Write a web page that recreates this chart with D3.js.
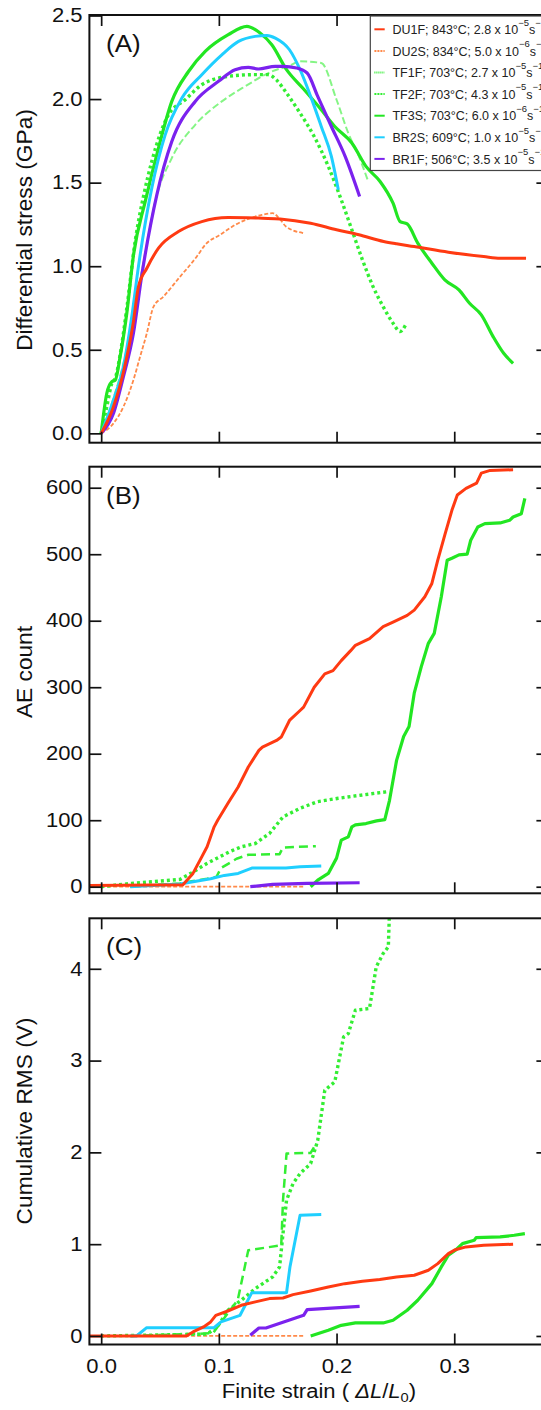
<!DOCTYPE html>
<html>
<head>
<meta charset="utf-8">
<script src="https://cdn.jsdelivr.net/npm/d3@7"></script>
<style>
  body { margin: 0; background: #fff; overflow: hidden; }
  svg { display: block; font-family: "Liberation Sans", Arial, sans-serif; }
</style>
</head>
<body>
<div id="chart"></div>
<script>
////////// Data //////////

var strainTicks = [0, 0.1, 0.2, 0.3];
var stressTicks = [0, 0.5, 1, 1.5, 2, 2.5];
var aeTicks = [0, 100, 200, 300, 400, 500, 600];
var rmsTicks = [0, 1, 2, 3, 4];

var seriesKeys = ["DU1F", "DU2S", "TF1F", "TF2F", "TF3S", "BR2S", "BR1F"];
var seriesTemps = [843, 834, 703, 703, 703, 609, 506];
var rateMantissa = ["2.8", "5.0", "2.7", "4.3", "6.0", "1.0", "3.5"];
var rateExponent = ["\u22125", "\u22126", "\u22125", "\u22125", "\u22126", "\u22125", "\u22125"];

// (A) differential stress, GPa
var stressDU1F = [[0,0],[0.01,0.15],[0.02,0.4],[0.027,0.65],[0.0317,0.878],[0.0388,0.988],[0.0487,1.108],[0.0657,1.207],[0.0855,1.267],[0.108,1.291],[0.124,1.29],[0.137,1.287],[0.152,1.283],[0.178,1.257],[0.2,1.218],[0.219,1.188],[0.24,1.148],[0.251,1.134],[0.266,1.118],[0.295,1.084],[0.325,1.058],[0.339,1.048],[0.361,1.048]];
var stressDU2S = [[0,0],[0.0105,0.06],[0.0189,0.159],[0.0274,0.319],[0.0331,0.459],[0.0388,0.599],[0.0445,0.758],[0.0529,0.818],[0.0671,0.938],[0.0813,1.058],[0.0884,1.128],[0.101,1.188],[0.1138,1.247],[0.1365,1.307],[0.1457,1.317],[0.152,1.28],[0.157,1.238],[0.172,1.198]];
var stressTF1F = [[0,0],[0.0048,0.16],[0.0091,0.3],[0.012,0.33],[0.0161,0.47],[0.0218,0.75],[0.0289,1.15],[0.036,1.42],[0.043,1.627],[0.0572,1.906],[0.0714,1.996],[0.0855,2.086],[0.108,2.136],[0.1308,2.146],[0.142,2.146],[0.1487,2.116],[0.1575,2.036],[0.169,1.916],[0.181,1.776],[0.193,1.597],[0.204,1.397],[0.213,1.218],[0.222,1.038],[0.231,0.878],[0.2396,0.758],[0.248,0.659],[0.254,0.609],[0.2587,0.649]];
var stressTF2F = [[0,0],[0.01,0.2],[0.02,0.45],[0.03,0.8],[0.038,1.1],[0.0459,1.387],[0.06,1.647],[0.0799,1.846],[0.1025,1.986],[0.1223,2.076],[0.145,2.165],[0.16,2.2],[0.169,2.226],[0.187,2.216],[0.2,1.996],[0.21,1.796],[0.219,1.657],[0.2264,1.517]];
var stressTF3S = [[0,0],[0.0048,0.24],[0.0091,0.309],[0.012,0.319],[0.0161,0.459],[0.0218,0.72],[0.0275,1.068],[0.0374,1.387],[0.0487,1.707],[0.06,1.986],[0.0742,2.165],[0.0884,2.285],[0.108,2.385],[0.1238,2.435],[0.135,2.395],[0.145,2.325],[0.1575,2.176],[0.172,2.06],[0.187,1.936],[0.1985,1.836],[0.213,1.737],[0.225,1.597],[0.237,1.507],[0.248,1.377],[0.254,1.267],[0.26,1.253],[0.269,1.138],[0.281,1.018],[0.292,0.918],[0.304,0.858],[0.313,0.778],[0.323,0.709],[0.333,0.579],[0.342,0.479],[0.35,0.419]];
var stressBR2S = [[0,0],[0.0105,0.2],[0.0189,0.399],[0.026,0.699],[0.0317,1.0],[0.043,1.467],[0.0544,1.786],[0.0686,2.006],[0.0855,2.146],[0.1025,2.265],[0.1167,2.345],[0.1308,2.375],[0.141,2.381],[0.148,2.365],[0.16,2.295],[0.169,2.176],[0.178,2.016],[0.187,1.836],[0.1956,1.657],[0.2015,1.457]];
var stressBR1F = [[0,0],[0.0105,0.12],[0.0189,0.339],[0.0274,0.599],[0.0346,0.95],[0.0473,1.427],[0.06,1.746],[0.0799,1.986],[0.0997,2.106],[0.1138,2.176],[0.125,2.19],[0.1336,2.18],[0.148,2.196],[0.1545,2.196],[0.166,2.186],[0.175,2.156],[0.184,2.016],[0.1956,1.836],[0.2073,1.657],[0.2196,1.417]];

// (B) AE count
var aeDU1F = [[-0.01,2],[0.0695,3],[0.078,20],[0.084,40],[0.09,60],[0.096,90],[0.099,100],[0.1076,125],[0.1164,150],[0.125,180],[0.134,205],[0.137,210],[0.149,220],[0.153,225],[0.16,250],[0.169,265],[0.172,270],[0.181,300],[0.19,320],[0.197,325],[0.204,340],[0.212,355],[0.216,363],[0.228,373],[0.2396,391],[0.248,398],[0.26,408],[0.266,416],[0.275,436],[0.281,456],[0.286,491],[0.292,529],[0.298,566],[0.3026,589],[0.31,599],[0.319,607],[0.323,622],[0.3305,626],[0.35,627]];
var aeDU2S = [[0,0],[0.172,0]];
var aeTF1F = [[0,0],[0.0255,5],[0.067,11],[0.078,22],[0.0898,35],[0.1096,53],[0.119,60],[0.131,65],[0.143,80],[0.1545,105],[0.169,118],[0.184,128],[0.2015,133],[0.222,138],[0.244,143]];
var aeTF2F = [[0.0247,0],[0.067,5],[0.09,12],[0.098,15],[0.1018,28],[0.115,42],[0.125,48],[0.1516,49],[0.1545,59],[0.166,60],[0.1824,61]];
var aeTF3S = [[0.178,0],[0.184,10],[0.193,20],[0.2,43],[0.204,70],[0.21,75],[0.213,90],[0.216,93],[0.225,95],[0.234,99],[0.241,101],[0.245,130],[0.251,190],[0.257,226],[0.2616,241],[0.266,291],[0.272,331],[0.278,366],[0.283,381],[0.289,436],[0.294,491],[0.298,494],[0.304,499],[0.311,500],[0.314,521],[0.32,541],[0.326,546],[0.339,547],[0.347,551],[0.35,556],[0.357,561],[0.36,584]];
var aeBR2S = [[0.0247,0],[0.067,4],[0.093,12],[0.1047,17],[0.1164,20],[0.128,28],[0.157,28],[0.169,30],[0.187,31]];
var aeBR1F = [[0.1267,0],[0.1457,3.5],[0.175,5],[0.2196,6]];

// (C) cumulative RMS, V
var rmsDU1F = [[-0.01,0],[0.0724,0],[0.078,0.044],[0.087,0.098],[0.093,0.153],[0.0974,0.225],[0.1076,0.272],[0.119,0.334],[0.131,0.371],[0.143,0.407],[0.1545,0.414],[0.163,0.45],[0.178,0.49],[0.193,0.534],[0.207,0.57],[0.222,0.596],[0.2367,0.614],[0.251,0.643],[0.266,0.661],[0.278,0.716],[0.286,0.788],[0.295,0.897],[0.301,0.94],[0.31,0.97],[0.325,0.988],[0.35,0.999]];
var rmsDU2S = [[0,0],[0.172,0]];
var rmsTF1F = [[0,0],[0.09,0.02],[0.0988,0.098],[0.1076,0.28],[0.119,0.389],[0.131,0.516],[0.1457,0.643],[0.1516,0.752],[0.1545,1.115],[0.1575,1.478],[0.163,1.66],[0.169,1.77],[0.178,1.878],[0.184,2.13],[0.19,2.677],[0.1985,2.768],[0.206,3.258],[0.21,3.294],[0.216,3.549],[0.228,3.567],[0.2337,4.021],[0.2396,4.166],[0.244,4.239],[0.2449,4.6]];
var rmsTF2F = [[0.0247,0],[0.095,0.03],[0.0988,0.098],[0.116,0.389],[0.125,0.934],[0.153,0.988],[0.1545,1.478],[0.1575,1.987],[0.178,1.994],[0.181,2.06]];
var rmsTF3S = [[0.178,0],[0.193,0.062],[0.204,0.116],[0.216,0.142],[0.2396,0.142],[0.248,0.171],[0.26,0.28],[0.269,0.389],[0.281,0.57],[0.289,0.752],[0.295,0.879],[0.301,0.934],[0.307,1.006],[0.317,1.043],[0.3186,1.071],[0.339,1.079],[0.351,1.097],[0.36,1.115]];
var rmsBR2S = [[0.0247,0],[0.03,0],[0.0387,0.09],[0.0959,0.09],[0.1018,0.153],[0.118,0.225],[0.128,0.472],[0.1575,0.472],[0.1604,0.752],[0.169,1.315],[0.187,1.322]];
var rmsBR1F = [[0.1267,0.007],[0.134,0.087],[0.14,0.087],[0.172,0.225],[0.175,0.287],[0.2196,0.323]];

////////// Styles //////////

var styleOf = {
  DU1F: { color: "#ff3a12", width: 3,   dash: null },
  DU2S: { color: "#ff8a4a", width: 1.8, dash: "4,2" },
  TF1F: { color: "#33ee33", width: 3.4, dash: "3,3" },
  TF2F: { color: "#33ee33", width: 2.5, dash: "9,5" },
  TF3S: { color: "#22e622", width: 3.2, dash: null },
  BR2S: { color: "#1fcfff", width: 3,   dash: null },
  BR1F: { color: "#7b22ee", width: 3.2, dash: null }
};
var legendDash = { DU1F: null, DU2S: "2,1", TF1F: "1,1", TF2F: "2,1", TF3S: null, BR2S: null, BR1F: null };
var drawOrder = ["TF2F", "DU2S", "TF1F", "TF3S", "BR2S", "BR1F", "DU1F"];

var W = 541, H = 1410;
var frameLeft = 89.4, frameRight = 548.4;
var stretch = 1.13; // reference text is drawn a little wide

var svg = d3.select("#chart").append("svg")
  .attr("width", W).attr("height", H);

var x = d3.scaleLinear().domain([-0.01, 0.38]).range([frameLeft, frameRight]);

var panels = [
  { id: "A", label: "(A)", top: 15, bottom: 442.7, domain: [-0.056, 2.503], ticks: stressTicks,
    fmt: d3.format(".1f"), title: "Differential stress (GPa)", titleY: 230, curve: d3.curveMonotoneX,
    data: { DU1F: stressDU1F, DU2S: stressDU2S, TF1F: stressTF1F, TF2F: stressTF2F, TF3S: stressTF3S, BR2S: stressBR2S, BR1F: stressBR1F } },
  { id: "B", label: "(B)", top: 466.7, bottom: 893.3, domain: [-9.9, 631.6], ticks: aeTicks,
    fmt: d3.format("d"), title: "AE count", titleY: 672, curve: d3.curveLinear,
    data: { DU1F: aeDU1F, DU2S: aeDU2S, TF1F: aeTF1F, TF2F: aeTF2F, TF3S: aeTF3S, BR2S: aeBR2S, BR1F: aeBR1F } },
  { id: "C", label: "(C)", top: 918.3, bottom: 1344.5, domain: [-0.093, 4.55], ticks: rmsTicks,
    fmt: d3.format("d"), title: "Cumulative RMS (V)", titleY: 1121, curve: d3.curveLinear,
    data: { DU1F: rmsDU1F, DU2S: rmsDU2S, TF1F: rmsTF1F, TF2F: rmsTF2F, TF3S: rmsTF3S, BR2S: rmsBR2S, BR1F: rmsBR1F } }
];

panels.forEach(function(p, i) {
  var y = d3.scaleLinear().domain(p.domain).range([p.bottom, p.top]);
  var g = svg.append("g").attr("class", "panel");

  // clip to the frame
  svg.append("clipPath").attr("id", "clip" + p.id)
    .append("rect")
    .attr("x", frameLeft).attr("y", p.top)
    .attr("width", frameRight - frameLeft).attr("height", p.bottom - p.top);

  var line = d3.line()
    .curve(p.curve)
    .x(function(d) { return x(d[0]); })
    .y(function(d) { return y(d[1]); });

  var lines = g.append("g").attr("clip-path", "url(#clip" + p.id + ")");
  drawOrder.forEach(function(k) {
    var s = styleOf[k];
    var path = lines.append("path")
      .datum(p.data[k])
      .attr("fill", "none")
      .attr("stroke", s.color)
      .attr("stroke-width", s.width)
      .attr("stroke-linejoin", "round")
      .attr("d", line);
    if (s.dash) path.attr("stroke-dasharray", s.dash);
    // in (A) TF2F is drawn thinner and paler
    if (p.id == "A" && k == "TF2F") {
      path.attr("stroke-width", 2).attr("stroke-opacity", 0.6).attr("stroke-dasharray", "7,3");
    }
  });

  // axes, ticks pointing inward on all four sides
  var left = g.append("g")
    .attr("transform", "translate(" + frameLeft + ",0)")
    .call(d3.axisLeft(y).tickValues(p.ticks).tickFormat(p.fmt)
      .tickSizeInner(-12).tickSizeOuter(0).tickPadding(6));
  left.selectAll(".tick text")
    .attr("transform", "scale(" + stretch + ",1)")
    .style("font-size", "19.5px").attr("fill", "#111");

  g.append("g")
    .attr("transform", "translate(" + frameRight + ",0)")
    .call(d3.axisRight(y).tickValues(p.ticks).tickFormat("")
      .tickSizeInner(-12).tickSizeOuter(0));

  g.append("g")
    .attr("transform", "translate(0," + p.top + ")")
    .call(d3.axisTop(x).tickValues(strainTicks).tickFormat("")
      .tickSizeInner(-11).tickSizeOuter(0));

  var bottom = g.append("g")
    .attr("transform", "translate(0," + p.bottom + ")")
    .call(d3.axisBottom(x).tickValues(strainTicks)
      .tickFormat(i == panels.length - 1 ? d3.format(".1f") : "")
      .tickSizeInner(-11).tickSizeOuter(0).tickPadding(14.5));
  bottom.selectAll(".tick text")
    .attr("transform", "scale(" + stretch + ",1)")
    .style("font-size", "19.5px").attr("fill", "#111");

  g.selectAll(".domain").remove();
  g.selectAll(".tick line").attr("stroke", "#111").attr("stroke-width", 1.7);

  g.append("rect")
    .attr("x", frameLeft).attr("y", p.top)
    .attr("width", frameRight - frameLeft).attr("height", p.bottom - p.top)
    .attr("fill", "none").attr("stroke", "#111").attr("stroke-width", 2);

  // panel letter
  g.append("text")
    .attr("transform", "translate(106," + (p.top + 37) + ") scale(" + stretch + ",1)")
    .style("font-size", "23px").attr("fill", "#111")
    .text(p.label);

  // y title
  g.append("text")
    .attr("transform", "translate(32," + p.titleY + ") rotate(-90)")
    .attr("text-anchor", "middle")
    .style("font-size", "22.7px").attr("fill", "#111")
    .text(p.title);
});

// x title
var xt = svg.append("text")
  .attr("transform", "translate(" + ((frameLeft + frameRight) / 2) + ",1398) scale(" + stretch + ",1)")
  .attr("text-anchor", "middle")
  .style("font-size", "19.5px").attr("fill", "#111");
xt.append("tspan").text("Finite strain ( ");
xt.append("tspan").style("font-style", "italic").text("\u0394L");
xt.append("tspan").text("/");
xt.append("tspan").style("font-style", "italic").text("L");
xt.append("tspan").style("font-size", "13px").attr("dy", 4).text("0");
xt.append("tspan").attr("dy", -4).text(")");

// legend
var legend = svg.append("g");
legend.append("rect")
  .attr("x", 370.3).attr("y", 16)
  .attr("width", 200).attr("height", 154.5)
  .attr("fill", "#fff").attr("stroke", "#444").attr("stroke-width", 1.2);

seriesKeys.forEach(function(k, i) {
  var cy = 29.3 + 21.6 * i;
  var s = styleOf[k];
  var ln = legend.append("line")
    .attr("x1", 374.4).attr("x2", 384.7).attr("y1", cy).attr("y2", cy)
    .attr("stroke", s.color).attr("stroke-width", 2);
  if (legendDash[k]) ln.attr("stroke-dasharray", legendDash[k]);

  var t = legend.append("text")
    .attr("transform", "translate(392.5," + (cy + 4.7) + ") scale(1.05,1)")
    .style("font-size", "11.9px").attr("fill", "#222");
  t.append("tspan").text(k + "; " + seriesTemps[i] + "\u00b0C; " + rateMantissa[i] + " x 10");
  t.append("tspan").style("font-size", "9px").attr("dy", -8.5).text(rateExponent[i]);
  t.append("tspan").attr("dy", 8.5).text("s");
  t.append("tspan").style("font-size", "9px").attr("dy", -8.5).text("\u22121");
});
</script>
</body>
</html>
